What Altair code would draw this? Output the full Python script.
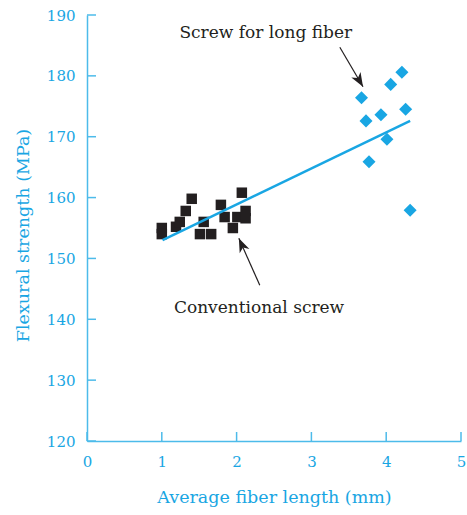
import math
import altair as alt
import pandas as pd

# ---- data ----
conv_x = [1.00, 1.00, 1.19, 1.24, 1.32, 1.40, 1.51, 1.56, 1.66, 1.79, 1.84, 1.95, 2.01, 2.07, 2.12, 2.12]
conv_y = [155.0, 154.0, 155.2, 156.0, 157.8, 159.8, 154.0, 156.0, 154.0, 158.8, 156.8, 155.0, 156.8, 160.8, 157.8, 156.6]

long_x = [3.67, 3.73, 3.77, 3.93, 4.01, 4.06, 4.21, 4.26, 4.32]
long_y = [176.4, 172.6, 165.9, 173.6, 169.6, 178.6, 180.6, 174.5, 157.9]

fit_x = [1.01, 4.32]
fit_y = [153.0, 172.6]

x_ticks = [0, 1, 2, 3, 4, 5]
y_ticks = [120, 130, 140, 150, 160, 170, 180, 190]

labels = ["Screw for long fiber", "Conventional screw"]
label_x = [2.39, 2.30]
label_y = [187.0, 141.9]

arrow_from_x = [3.38, 2.31]
arrow_from_y = [184.7, 145.6]
arrow_to_x = [3.69, 2.03]
arrow_to_y = [178.2, 153.3]

# ---- layout ----
W, H = 374, 426
XDOM, YDOM = [0, 5], [120, 190]
BLUE = "#19A6E3"
AXIS_BLUE = "#4DBBEA"
BLACK = "#231F20"
FONT = "DejaVu Serif"

xs = alt.Scale(domain=XDOM, nice=False, zero=False)
ys = alt.Scale(domain=YDOM, nice=False, zero=False)

conv = pd.DataFrame({"x": conv_x, "y": conv_y})
lng = pd.DataFrame({"x": long_x, "y": long_y})
fit = pd.DataFrame({"x": fit_x, "y": fit_y})
lab = pd.DataFrame({"x": label_x, "y": label_y, "t": labels})

px_x = W / (XDOM[1] - XDOM[0])
px_y = H / (YDOM[1] - YDOM[0])
angles = []
for i in range(2):
    dx = (arrow_to_x[i] - arrow_from_x[i]) * px_x
    dy = -(arrow_to_y[i] - arrow_from_y[i]) * px_y
    angles.append(math.degrees(math.atan2(dx, -dy)) % 360)
arr = pd.DataFrame({"x": arrow_from_x, "y": arrow_from_y,
                    "x2": arrow_to_x, "y2": arrow_to_y, "a": angles})

x_axis = alt.Axis(values=x_ticks, tickSize=0, grid=False, domainColor=AXIS_BLUE, domainWidth=1.5,
                  labelColor=BLUE, labelFont=FONT, labelFontSize=15, labelPadding=13, labelFlush=False,
                  title="Average fiber length (mm)", titleColor=BLUE, titleFont=FONT,
                  titleFontSize=17.5, titleFontWeight="normal", titlePadding=19)
y_axis = alt.Axis(values=y_ticks, tickSize=0, grid=False, domainColor=AXIS_BLUE, domainWidth=1.5,
                  labelColor=BLUE, labelFont=FONT, labelFontSize=15, labelPadding=12, labelFlush=False,
                  title="Flexural strength (MPa)", titleColor=BLUE, titleFont=FONT,
                  titleFontSize=17.5, titleFontWeight="normal", titlePadding=14, titleY=220)


def X(f):
    return alt.X(f, scale=xs, axis=x_axis)


def Y(f):
    return alt.Y(f, scale=ys, axis=y_axis)


base_conv = alt.Chart(conv).mark_square(size=110, color=BLACK, opacity=1).encode(
    x=X("x:Q"), y=Y("y:Q"))

long_pts = alt.Chart(lng).mark_point(shape="diamond", size=170, filled=True, color=BLUE, opacity=1).encode(
    x=X("x:Q"), y=Y("y:Q"))

fit_line = alt.Chart(fit).mark_line(color=BLUE, strokeWidth=2.5).encode(
    x=X("x:Q"), y=Y("y:Q"))

ytick_df = pd.DataFrame({"v": y_ticks})
xtick_df = pd.DataFrame({"v": x_ticks})
yt = alt.Chart(ytick_df).mark_rule(color=AXIS_BLUE, strokeWidth=1.5).encode(
    y=Y("v:Q"), x=alt.value(0), x2=alt.value(9))
xt = alt.Chart(xtick_df).mark_rule(color=AXIS_BLUE, strokeWidth=1.5).encode(
    x=X("v:Q"), y=alt.value(H), y2=alt.value(H - 9))

text = alt.Chart(lab).mark_text(font=FONT, fontSize=17, color=BLACK).encode(
    x=X("x:Q"), y=Y("y:Q"), text="t:N")

shaft = alt.Chart(arr).mark_rule(color=BLACK, strokeWidth=1.2).encode(
    x=X("x:Q"), y=Y("y:Q"), x2="x2:Q", y2="y2:Q")

head = alt.Chart(arr).mark_point(shape="M0,0 L0.38,1 L0,0.72 L-0.38,1 Z", size=784,
                                 filled=True, color=BLACK, opacity=1).encode(
    x=X("x2:Q"), y=Y("y2:Q"), angle=alt.Angle("a:Q", scale=None))

chart = alt.layer(base_conv, fit_line, long_pts, yt, xt, text, shaft, head).properties(
    width=W, height=H,
    autosize=alt.AutoSizeParams(type="none"),
    padding={"left": 87, "top": 15, "right": 6, "bottom": 74},
    background="white",
).configure_view(stroke=None)

chart.save("out.html", embed_options={"renderer": "svg", "actions": False})
